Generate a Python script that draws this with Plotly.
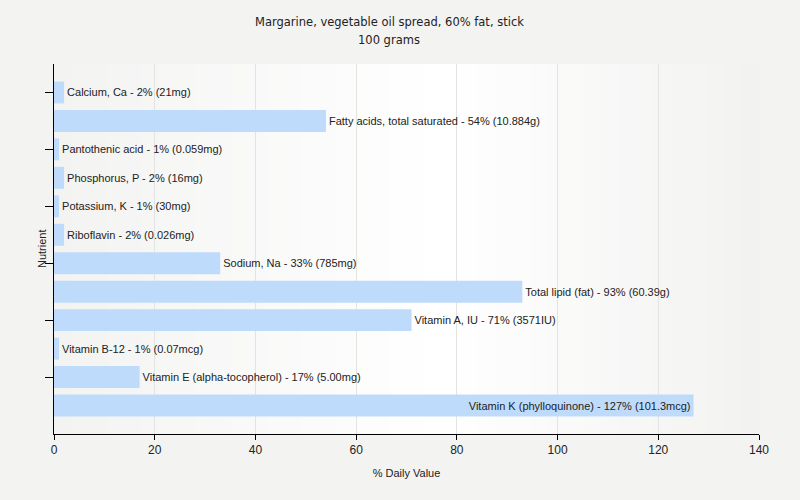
import plotly.graph_objects as go

nutrients = [
    "Calcium, Ca", "Fatty acids, total saturated", "Pantothenic acid",
    "Phosphorus, P", "Potassium, K", "Riboflavin", "Sodium, Na",
    "Total lipid (fat)", "Vitamin A, IU", "Vitamin B-12",
    "Vitamin E (alpha-tocopherol)", "Vitamin K (phylloquinone)",
]
daily_pct = [2, 54, 1, 2, 1, 2, 33, 93, 71, 1, 17, 127]
amounts = ["21mg", "10.884g", "0.059mg", "16mg", "30mg", "0.026mg", "785mg",
           "60.39g", "3571IU", "0.07mcg", "5.00mg", "101.3mcg"]
x_ticks = [0, 20, 40, 60, 80, 100, 120, 140]
title_lines = ["Margarine, vegetable oil spread, 60% fat, stick", "100 grams"]

labels = [f"{n} - {p}% ({a})" for n, p, a in zip(nutrients, daily_pct, amounts)]
positions = ["inside" if p > 120 else "outside" for p in daily_pct]

fig = go.Figure()
fig.add_trace(go.Bar(
    y=nutrients, x=daily_pct, orientation="h",
    marker=dict(color="#bfdbfb", line=dict(width=0)),
    text=labels, textposition=positions, insidetextanchor="end",
    constraintext="none", cliponaxis=False,
    textfont=dict(family="Liberation Sans, Arial, sans-serif", size=11, color="#222222"),
    hoverinfo="skip",
))

# horizontal gradient background for plot area
def lerp(a, b, t):
    return tuple(round(a[i] + (b[i] - a[i]) * t) for i in range(3))
left_c, mid_c, right_c = (243, 243, 242), (255, 255, 255), (242, 242, 241)
n = 40
shapes = []
for i in range(n):
    t = (i + 0.5) / n
    if t < 0.55:
        c = lerp(left_c, mid_c, t / 0.55)
    else:
        c = lerp(mid_c, right_c, (t - 0.55) / 0.45)
    shapes.append(dict(type="rect", xref="paper", yref="paper",
                       x0=i / n, x1=(i + 1) / n + 0.002, y0=0, y1=1,
                       fillcolor="rgb(%d,%d,%d)" % c, line=dict(width=0),
                       layer="below"))

title_font = dict(family="DejaVu Sans, Verdana, sans-serif", size=11.5, color="#222222")
annotations = [
    dict(text=title_lines[0], xref="paper", yref="paper", x=0.4753, y=1.1135,
         xanchor="center", yanchor="middle", showarrow=False, font=title_font),
    dict(text=title_lines[1], xref="paper", yref="paper", x=0.4753, y=1.0649,
         xanchor="center", yanchor="middle", showarrow=False, font=title_font),
    dict(text="Nutrient", xref="paper", yref="paper", x=0, y=0.5, xshift=-12,
         xanchor="center", yanchor="middle", textangle=-90, showarrow=False,
         font=dict(family="Liberation Sans, Arial, sans-serif", size=11, color="#222222")),
]

fig.update_layout(
    width=800, height=500,
    paper_bgcolor="#f3f3f2", plot_bgcolor="rgba(0,0,0,0)",
    margin=dict(l=54, r=41, t=64, b=66),
    shapes=shapes,
    annotations=annotations,
    showlegend=False,
    bargap=0.23,
    xaxis=dict(range=[0, 140], tickvals=x_ticks, showgrid=True, gridcolor="#e3e3e3",
               gridwidth=1, zeroline=False, showline=True, linecolor="#000000",
               linewidth=1, ticks="outside", ticklen=5, tickcolor="#000000",
               tickfont=dict(family="Liberation Sans, Arial, sans-serif", size=12, color="#222222"),
               title=dict(text="% Daily Value", standoff=12,
                          font=dict(family="Liberation Sans, Arial, sans-serif", size=11, color="#222222"))),
    yaxis=dict(categoryorder="array", categoryarray=nutrients, range=[12, -1],
               tickmode="array", tickvals=nutrients[::2], ticktext=[""] * 6,
               showgrid=False, zeroline=False, showline=True, linecolor="#000000",
               linewidth=1, ticks="outside", ticklen=8, tickcolor="#000000"),
)

fig.write_html("out.html", config={"displayModeBar": False},
               post_script="document.body.style.margin='0';document.body.style.background='#f3f3f2';")
